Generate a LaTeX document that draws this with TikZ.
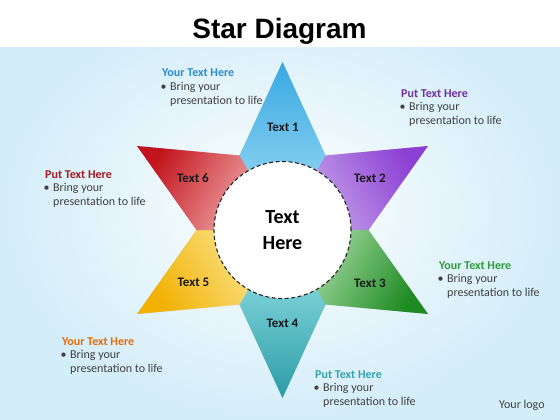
\documentclass[tikz,border=0pt]{standalone}
\usepackage{fontspec}
\setmainfont{Carlito}
\newfontfamily\titlefont{Liberation Sans}
\usetikzlibrary{positioning}

\definecolor{bgblue}{HTML}{D3EDF9}
\definecolor{bodygray}{HTML}{404040}
\definecolor{hdblue}{HTML}{2C8CCC}
\definecolor{hdpurple}{HTML}{7030A0}
\definecolor{hdred}{HTML}{A5191F}
\definecolor{hdgreen}{HTML}{2E9B3A}
\definecolor{hdorange}{HTML}{E46C0A}
\definecolor{hdteal}{HTML}{33A3AD}

\definecolor{tipblue}{HTML}{38A8E2}
\definecolor{lblue}{HTML}{A9E2F7}
\definecolor{tippurple}{HTML}{8B3FD3}
\definecolor{lpurple}{HTML}{CDB0EE}
\definecolor{tipgreen}{HTML}{1E8A22}
\definecolor{lgreen}{HTML}{B8E6B4}
\definecolor{tipteal}{HTML}{2A9CA6}
\definecolor{lteal}{HTML}{A4EBF0}
\definecolor{tipyellow}{HTML}{F2B000}
\definecolor{lyellow}{HTML}{FBEA9E}
\definecolor{tipred}{HTML}{C1141C}
\definecolor{lred}{HTML}{F7BDBD}

\newcommand{\notetext}[2]{%
  \begin{tabular}{@{}p{9.5pt}@{}l@{}}
    \multicolumn{2}{@{\hspace{1.5pt}}l@{}}{\textcolor{#1}{\bfseries #2}}\\[-0.5pt]
    \textbullet & Bring your\\
                & presentation to life
  \end{tabular}}

\tikzset{
  note/.style={anchor=north west, inner sep=0pt, text=bodygray,
    font=\fontsize{12}{14}\selectfont},
  ptlabel/.style={font=\bfseries\fontsize{13}{15}\selectfont, text=black!90},
}

\begin{document}
\begin{tikzpicture}[x=1pt,y=-1pt]

     \coordinate (C) at (282.5,230);
      \coordinate (T1) at (282.5,62);
       \coordinate (T2) at (428,146);
        \coordinate (T3) at (428,314);
         \coordinate (T4) at (282.5,398);
          \coordinate (T5) at (137,314);
           \coordinate (T6) at (137,146);

      \coordinate (v0) at (368.5,230);
      \coordinate (v60) at (325.5,155.5);
      \coordinate (v120) at (239.5,155.5);
      \coordinate (v180) at (196.5,230);
      \coordinate (v240) at (239.5,304.5);
      \coordinate (v300) at (325.5,304.5);

   \useasboundingbox (0,0) rectangle (560,420);
   \shade[inner color=white, outer color=bgblue] (0,0) rectangle (560,420);
   \fill[white] (0,0) rectangle (560,47);

   \node[anchor=base, font=\titlefont\bfseries\fontsize{28}{32}\selectfont] (title) at (279.5,39) {Star Diagram};

    \fill[black, opacity=0.15, shift={(1.5,1.5)}]
      (T1) -- (v60) -- (T2) -- (v0) -- (T3) -- (v300) -- (T4)
      -- (v240) -- (T5) -- (v180) -- (T6) -- (v120) -- cycle;

    \shade[top color=tipblue, bottom color=lblue, shading angle=0]
      (T1) -- (v60) -- (C) -- (v120) -- cycle;
    \shade[top color=tippurple, bottom color=lpurple, shading angle=-60]
      (T2) -- (v0) -- (C) -- (v60) -- cycle;
    \shade[top color=tipgreen, bottom color=lgreen, shading angle=-120]
      (T3) -- (v300) -- (C) -- (v0) -- cycle;
    \shade[top color=tipteal, bottom color=lteal, shading angle=180]
      (T4) -- (v240) -- (C) -- (v300) -- cycle;
    \shade[top color=tipyellow, bottom color=lyellow, shading angle=120]
      (T5) -- (v180) -- (C) -- (v240) -- cycle;
    \shade[top color=tipred, bottom color=lred, shading angle=60]
      (T6) -- (v120) -- (C) -- (v180) -- cycle;

    \node[circle, minimum size=137pt, inner sep=0pt, fill=white, draw=black!85,
      line width=1.1pt, dash pattern=on 4pt off 2.5pt, align=center,
      font=\bfseries\fontsize{20}{26}\selectfont] (hub) at (C) {Text\\Here};

   \tikzset{every node/.style={ptlabel}}
    \node (t1) at (283,127.5) {Text 1};
    \node (t2) at (370,178) {Text 2};
    \node (t3) at (370,283.5) {Text 3};
    \node (t4) at (282.5,323) {Text 4};
    \node (t5) at (193.5,282) {Text 5};
    \node (t6) at (193,178.5) {Text 6};

   \tikzset{every node/.style={note}}
    \node (n1) at (160.5,66.7) {\notetext{hdblue}{Your Text Here}};
    \node (n2) at (399.5,87.2) {\notetext{hdpurple}{Put Text Here}};
    \node (n3) at (43.5,168.2) {\notetext{hdred}{Put Text Here}};
    \node (n4) at (437.5,259.2) {\notetext{hdgreen}{Your Text Here}};
    \node (n5) at (60.5,335.2) {\notetext{hdorange}{Your Text Here}};
    \node (n6) at (313.5,368.2) {\notetext{hdteal}{Put Text Here}};

    \node[anchor=base west, inner sep=0pt] (logo) at (499,408) {Your logo};

\end{tikzpicture}
\end{document}
